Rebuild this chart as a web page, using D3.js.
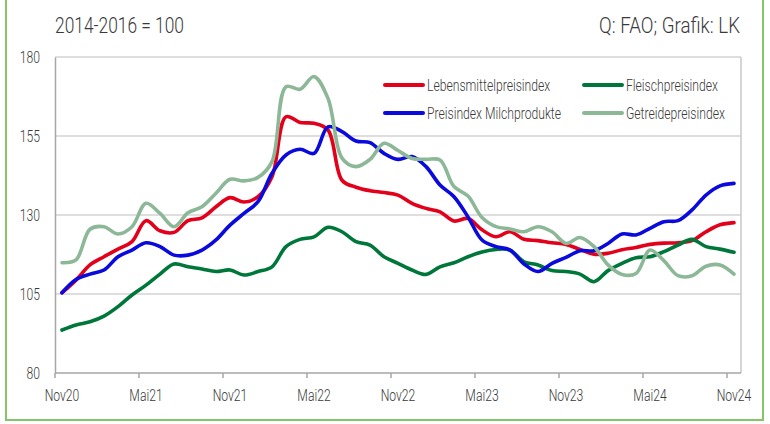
<!DOCTYPE html>
<html>
<head>
<meta charset="utf-8">
<script src="https://cdn.jsdelivr.net/npm/d3@7"></script>
<style>
  body { margin: 0; background: #fff; }
  svg text { font-family: Roboto, "Liberation Sans", sans-serif; font-weight: 300; fill: #3a3a3a; }
</style>
</head>
<body>
<svg id="chart" width="770" height="424"></svg>
<script>
// months Nov20 .. Nov24
const months = [
  "2020-11","2020-12","2021-01","2021-02","2021-03","2021-04","2021-05","2021-06","2021-07","2021-08","2021-09","2021-10",
  "2021-11","2021-12","2022-01","2022-02","2022-03","2022-04","2022-05","2022-06","2022-07","2022-08","2022-09","2022-10",
  "2022-11","2022-12","2023-01","2023-02","2023-03","2023-04","2023-05","2023-06","2023-07","2023-08","2023-09","2023-10",
  "2023-11","2023-12","2024-01","2024-02","2024-03","2024-04","2024-05","2024-06","2024-07","2024-08","2024-09","2024-10",
  "2024-11"
]

const tick_months = ["2020-11","2021-05","2021-11","2022-05","2022-11","2023-05","2023-11","2024-05","2024-11"]
const tick_labels = ["Nov20","Mai21","Nov21","Mai22","Nov22","Mai23","Nov23","Mai24","Nov24"]
const y_ticks = [80, 105, 130, 155, 180]

const food = [105.4,109.4,114.2,116.8,119.2,121.6,128.2,125.0,124.5,128.2,129.1,132.6,135.5,134.1,135.8,142.1,161.1,159.3,159.0,156.9,141.0,138.8,137.7,137.1,136.3,133.7,132.1,131.0,128.1,128.9,125.3,123.1,124.7,122.3,121.9,121.2,120.7,119.1,117.6,117.9,119.0,119.7,120.7,121.1,121.2,121.9,124.7,126.9,127.6]
const meat = [93.6,95.2,96.2,98.0,101.0,104.7,107.8,111.3,114.5,113.6,112.9,112.1,112.6,111.0,112.1,113.6,120.0,122.3,123.1,126.1,124.7,121.6,120.5,116.8,114.7,112.6,111.2,113.6,114.9,116.8,118.3,119.1,118.9,115.2,114.2,112.4,112.1,111.3,108.9,112.4,114.7,116.5,116.8,118.4,120.5,122.3,120.0,119.2,118.2]
const dairy = [105.4,109.6,111.3,112.6,116.8,118.9,121.2,120.0,117.3,117.3,118.9,122.1,126.8,130.5,134.2,143.2,149.0,150.8,149.5,157.9,156.4,153.4,152.9,149.5,147.6,148.5,145.3,139.5,135.8,129.4,122.1,120.0,118.9,114.5,112.1,114.7,116.6,118.7,118.7,121.0,124.0,123.7,125.8,127.9,128.2,131.6,136.3,139.2,140.0]
const cereals = [114.9,115.8,125.5,126.3,124.0,126.3,133.7,130.5,126.3,130.7,132.6,136.9,141.3,140.8,141.9,146.9,170.6,169.8,173.8,166.9,148.0,145.3,147.6,152.7,150.4,147.9,147.6,147.4,139.0,136.0,129.2,126.3,125.6,124.7,126.3,124.7,121.0,122.9,120.0,114.2,111.2,111.5,118.9,115.5,110.8,110.8,113.8,114.2,111.3]

const series_names = ["Lebensmittelpreisindex", "Fleischpreisindex", "Preisindex Milchprodukte", "Getreidepreisindex"]
const series_values = [food, meat, dairy, cereals]
const series_colors = ["#e2001a", "#00773a", "#0a0adc", "#8cb898"]

const svg = d3.select("#chart")

const marginLeft = 55
const marginRight = 29
const marginTop = 57
const marginBottom = 51
const width = 770
const height = 424

// the original uses a condensed font, squeeze the glyphs horizontally
const condense = 0.76

const x = d3.scaleBand().domain(months).range([marginLeft, width - marginRight])
const y = d3.scaleLinear().domain([80, 180]).range([height - marginBottom, marginTop])
const cx = m => x(m) + x.bandwidth() / 2

// outer green frame
svg.append("rect")
  .attr("x", 6).attr("y", -4)
  .attr("width", 757).attr("height", 424)
  .attr("fill", "none")
  .attr("stroke", "#86c46a")
  .attr("stroke-width", 2)

// grid lines
svg.append("g")
  .selectAll("line")
  .data(y_ticks.slice(1))
  .enter()
  .append("line")
  .attr("x1", marginLeft).attr("x2", width - marginRight)
  .attr("y1", d => y(d)).attr("y2", d => y(d))
  .attr("stroke", "#d3d3d3")
  .attr("stroke-width", 1.5)

// right border of plot
svg.append("line")
  .attr("x1", width - marginRight).attr("x2", width - marginRight)
  .attr("y1", y(180)).attr("y2", y(80))
  .attr("stroke", "#c8c8c8")
  .attr("stroke-width", 1.5)

// y axis
const y_axis = svg.append("g")
  .attr("transform", `translate(${marginLeft},0)`)
  .call(d3.axisLeft(y).tickValues(y_ticks).tickSize(0).tickPadding(15))
y_axis.select(".domain").attr("stroke", "#a6a6a6").attr("stroke-width", 1.5)
y_axis.selectAll("text").attr("font-size", 16).attr("fill", "#3a3a3a")

// x axis: ticks between categories, labels on category centers
const x_axis = svg.append("g")
  .attr("transform", `translate(0,${height - marginBottom})`)
x_axis.append("line")
  .attr("x1", marginLeft).attr("x2", width - marginRight)
  .attr("stroke", "#a6a6a6").attr("stroke-width", 1.5)
x_axis.selectAll(".tick")
  .data(tick_months)
  .enter()
  .append("line")
  .attr("x1", d => x(d)).attr("x2", d => x(d))
  .attr("y1", 0).attr("y2", 5)
  .attr("stroke", "#a6a6a6").attr("stroke-width", 1.5)
x_axis.selectAll(".label")
  .data(tick_months)
  .enter()
  .append("text")
  .attr("x", d => cx(d))
  .attr("y", 28)
  .attr("text-anchor", "middle")
  .attr("font-size", 16)
  .text((d, i) => tick_labels[i])

// lines
const line = d3.line()
  .x((d, i) => cx(months[i]))
  .y(d => y(d))
  .curve(d3.curveCatmullRom.alpha(0.5))

svg.append("g")
  .selectAll("path")
  .data(series_values)
  .enter()
  .append("path")
  .attr("d", d => line(d))
  .attr("fill", "none")
  .attr("stroke", (d, i) => series_colors[i])
  .attr("stroke-width", 3.6)
  .attr("stroke-linejoin", "round")
  .attr("stroke-linecap", "round")

// legend (two columns, Excel order)
const legend_pos = [[385, 85], [584, 85], [385, 113], [584, 113]]
const legend = svg.append("g")
  .selectAll("g")
  .data(series_names)
  .enter()
  .append("g")
  .attr("transform", (d, i) => `translate(${legend_pos[i][0]},${legend_pos[i][1]})`)
legend.append("line")
  .attr("x1", 0).attr("x2", 38)
  .attr("stroke", (d, i) => series_colors[i])
  .attr("stroke-width", 4)
  .attr("stroke-linecap", "round")
legend.append("text")
  .attr("x", 42).attr("y", 6)
  .attr("font-size", 16)
  .text(d => d)

svg.selectAll("text").each(function(){
  const len = this.getComputedTextLength()
  d3.select(this)
    .attr("textLength", len * condense)
    .attr("lengthAdjust", "spacingAndGlyphs")
})

// header (fixed widths as in the original)
svg.append("text")
  .attr("x", 55).attr("y", 33)
  .attr("font-size", 22)
  .attr("textLength", 129)
  .attr("lengthAdjust", "spacingAndGlyphs")
  .text("2014-2016 = 100")

svg.append("text")
  .attr("x", 599).attr("y", 33)
  .attr("font-size", 22)
  .attr("textLength", 141)
  .attr("lengthAdjust", "spacingAndGlyphs")
  .text("Q: FAO; Grafik: LK")
</script>
</body>
</html>
